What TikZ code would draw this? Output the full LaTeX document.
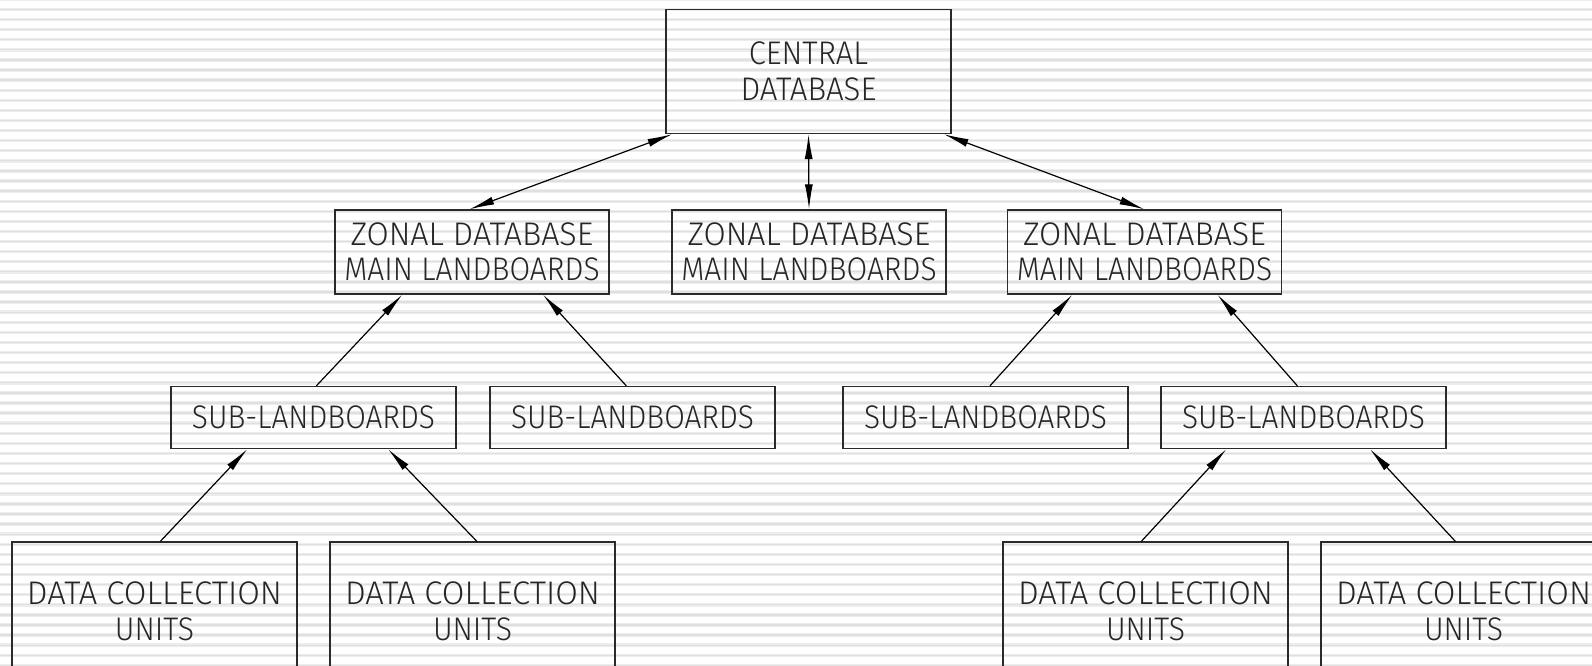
\documentclass[tikz,border=0pt]{standalone}
\usepackage{fontspec}
\usepackage{graphicx}
\usetikzlibrary{arrows.meta,calc}
\IfFontExistsTF{Fira Sans Light}{\newfontfamily\cadfont{Fira Sans Light}}{\newfontfamily\cadfont{Fira Sans}}
\newcommand\cadline[2]{\resizebox{#1pt}{\height}{#2}}
\definecolor{stripeA}{HTML}{EDEDED}
\definecolor{stripeB}{HTML}{E0E0E0}
\definecolor{boxline}{HTML}{2A2A2A}
\tikzset{
  stripeouter/.style={draw=stripeA,line width=3.4pt},
  stripeinner/.style={draw=stripeB,line width=1.3pt},
  box/.style={draw=boxline,line width=1.3pt,rectangle,inner sep=0pt,align=center,
    font=\cadfont\fontsize{32.7}{35.5}\selectfont,text=black!85},
  bigbox/.style={box,minimum width=285pt,minimum height=124pt},
  zonebox/.style={box,minimum width=274pt,minimum height=84pt},
  subbox/.style={box,minimum width=285pt,minimum height=62pt},
  dcubox/.style={box,minimum width=285pt,minimum height=139pt},
  tip/.tip={Latex[length=25pt,width=8pt]},
  arr/.style={draw=black,line width=1.2pt,-tip},
  biarr/.style={draw=black,line width=1.2pt,tip-tip}
}
\begin{document}
\begin{tikzpicture}[x=1pt,y=-1pt]
\path[use as bounding box] (0,0) rectangle (1592,666);
\clip (0,0) rectangle (1592,666);
\fill[white] (0,0) rectangle (1592,666);
\foreach \k in {0,...,66}{
  \draw[stripeouter] (0,{-0.6+10.09*\k}) -- (1592,{-0.6+10.09*\k});
  \draw[stripeinner] (0,{-0.6+10.09*\k}) -- (1592,{-0.6+10.09*\k});
}
% top
\node[bigbox] (central) at (808.5,71.5) {\cadline{119.4}{CENTRAL}\\\cadline{136}{DATABASE}};
% zonal
\node[zonebox] (z1) at (472,252) {\cadline{242.6}{ZONAL DATABASE}\\\cadline{255.3}{MAIN LANDBOARDS}};
\node[zonebox] (z2) at (809,252) {\cadline{242.6}{ZONAL DATABASE}\\\cadline{255.3}{MAIN LANDBOARDS}};
\node[zonebox] (z3) at (1144.5,252) {\cadline{242.6}{ZONAL DATABASE}\\\cadline{255.3}{MAIN LANDBOARDS}};
% sub
\node[subbox] (s1) at (313.5,417.5) {\cadline{243}{SUB-LANDBOARDS}};
\node[subbox] (s2) at (632.5,417.5) {\cadline{243}{SUB-LANDBOARDS}};
\node[subbox] (s3) at (985.5,417.5) {\cadline{243}{SUB-LANDBOARDS}};
\node[subbox] (s4) at (1303.5,417.5) {\cadline{243}{SUB-LANDBOARDS}};
% dcu
\node[dcubox] (d1) at (154.5,611.5) {\cadline{255}{DATA COLLECTION}\\\cadline{79}{UNITS}};
\node[dcubox] (d2) at (472.5,611.5) {\cadline{255}{DATA COLLECTION}\\\cadline{79}{UNITS}};
\node[dcubox] (d3) at (1145.5,611.5) {\cadline{255}{DATA COLLECTION}\\\cadline{79}{UNITS}};
\node[dcubox] (d4) at (1463.5,611.5) {\cadline{255}{DATA COLLECTION}\\\cadline{79}{UNITS}};
% connectors
\draw[biarr] ($(central.south west)+(7,0)$) -- ($(z1.north west)+(135,0)$);
\draw[biarr] (central.south) -- (z2.north);
\draw[biarr] ($(central.south east)+(-8,0)$) -- ($(z3.north west)+(137.5,0)$);
\draw[arr] ($(s1.north west)+(146,0)$) -- ($(z1.south west)+(68,0)$);
\draw[arr] ($(s2.north west)+(137,0)$) -- ($(z1.south west)+(208.6,0)$);
\draw[arr] ($(s3.north west)+(147.6,0)$) -- ($(z3.south west)+(65.5,0)$);
\draw[arr] ($(s4.north west)+(137,0)$) -- ($(z3.south west)+(210.5,0)$);
\draw[arr] ($(d1.north west)+(149,0)$) -- ($(s1.south west)+(77,0)$);
\draw[arr] ($(d2.north west)+(147.5,0)$) -- ($(s1.south west)+(217.7,0)$);
\draw[arr] ($(d3.north west)+(139,0)$) -- ($(s4.south west)+(66,0)$);
\draw[arr] ($(d4.north west)+(135,0)$) -- ($(s4.south west)+(209.6,0)$);
\end{tikzpicture}
\end{document}
